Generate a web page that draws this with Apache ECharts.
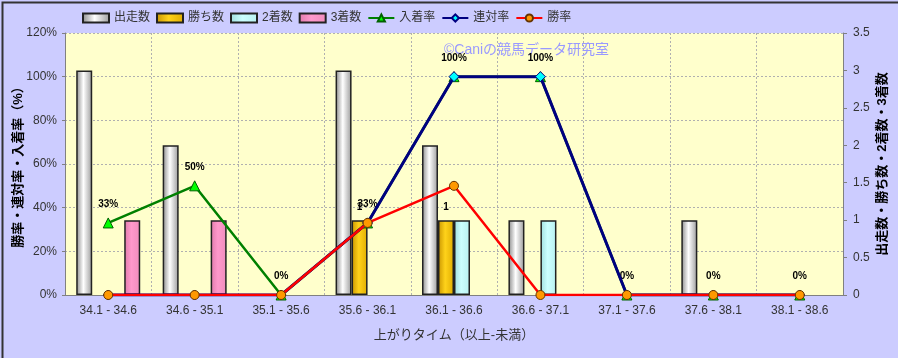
<!DOCTYPE html>
<html><head><meta charset="utf-8">
<script src="https://cdn.jsdelivr.net/npm/echarts@6/dist/echarts.min.js"></script>
<style>html,body{margin:0;padding:0;background:#ccccff;}#c{width:898px;height:358px;box-sizing:border-box;}</style>
</head><body><div id="c"></div>
<script>
const categories = ['34.1 - 34.6','34.6 - 35.1','35.1 - 35.6','35.6 - 36.1','36.1 - 36.6','36.6 - 37.1','37.1 - 37.6','37.6 - 38.1','38.1 - 38.6'];
const runs = [3, 2, 0, 3, 2, 1, 0, 1, 0];
const wins = [0, 0, 0, 1, 1, 0, 0, 0, 0];
const seconds = [0, 0, 0, 0, 1, 1, 0, 0, 0];
const thirds = [1, 1, 0, 0, 0, 0, 0, 0, 0];
const placeRate = [33, 50, 0, 33, 100, 100, 0, 0, 0];
const quinellaRate = [0, 0, 0, 33, 100, 100, 0, 0, 0];
const winRate = [0, 0, 0, 33, 50, 0, 0, 0, 0];
const leftTicks = {min: 0, max: 120, interval: 20};
const rightTicks = {min: 0, max: 3.5, interval: 0.5};

const FONT = '"Liberation Sans", "Noto Sans CJK JP", sans-serif';
const grad = (c1, c2, c3) => ({type:'linear', x:0, y:0, x2:1, y2:0,
  colorStops:[{offset:0,color:c1},{offset:0.45,color:c2},{offset:1,color:c3}]});
const hideZero = arr => arr.map(v => (v === 0 ? '-' : v));
const barBase = {type:'bar', yAxisIndex:1, barWidth:16, barGap:'0%', z:2};
const chart = echarts.init(document.getElementById('c'));
chart.setOption({
  animation:false,
  backgroundColor:'#ccccff',
  textStyle:{fontFamily:FONT},
  legend:{
    left:77, top:7, itemWidth:26, itemHeight:9, itemGap:6,
    textStyle:{fontSize:12, color:'#333', fontFamily:FONT},
    data:[
      {name:'出走数', icon:'rect'},{name:'勝ち数', icon:'rect'},{name:'2着数', icon:'rect'},{name:'3着数', icon:'rect'},
      {name:'入着率'},{name:'連対率'},{name:'勝率'}]
  },
  grid:{left:65, right:55, top:33, bottom:63, show:true, backgroundColor:'#ffffcc', borderWidth:0,
        containLabel:false, outerBoundsMode:'none'},
  graphic:[
    {type:'rect', left:0, top:0, shape:{width:897, height:357}, style:{fill:'none', stroke:'#333', lineWidth:2}, z:100, silent:true},
    {type:'text', left:444, top:43, z:1, style:{text:'©Caniの競馬データ研究室', fill:'#9999ff', font:'14px "Liberation Sans", "Noto Sans CJK JP", sans-serif'}}
  ],
  xAxis:{
    type:'category', data:categories,
    name:'上がりタイム（以上-未満）', nameLocation:'middle', nameGap:34, nameMoveOverlap:false,
    nameTextStyle:{fontSize:13, color:'#333'},
    axisLine:{lineStyle:{color:'#808080'}},
    axisTick:{show:false},
    axisLabel:{fontSize:12, color:'#333', margin:10},
    splitLine:{show:true, interval:0, lineStyle:{color:'#b0b0b0', type:[2,2], width:1}}
  },
  yAxis:[
    {type:'value', min:leftTicks.min, max:leftTicks.max, interval:leftTicks.interval,
     name:'勝率・連対率・入着率（%）', nameLocation:'middle', nameGap:40, nameRotate:90, nameMoveOverlap:false,
     nameTextStyle:{fontSize:13, color:'#000', fontWeight:'bold'},
     axisLine:{show:true, lineStyle:{color:'#808080'}},
     axisTick:{show:true, length:3, lineStyle:{color:'#808080'}},
     axisLabel:{formatter:'{value}%', fontSize:12, color:'#333', margin:8},
     splitLine:{show:true, lineStyle:{color:'#b0b0b0', type:[2,2], width:1}}},
    {type:'value', min:rightTicks.min, max:rightTicks.max, interval:rightTicks.interval,
     name:'出走数・勝ち数・2着数・3着数', nameLocation:'middle', nameGap:33, nameRotate:90, nameMoveOverlap:false,
     nameTextStyle:{fontSize:13, color:'#000', fontWeight:'bold'},
     axisLine:{show:true, lineStyle:{color:'#808080'}},
     axisTick:{show:true, length:4, lineStyle:{color:'#808080'}},
     axisLabel:{fontSize:12, color:'#333', margin:10},
     splitLine:{show:false}}
  ],
  series:[
    Object.assign({}, barBase, {name:'出走数', data:hideZero(runs),
      itemStyle:{color:grad('#8a8a8a','#ffffff','#9a9a9a'), borderColor:'#222', borderWidth:1.5}}),
    Object.assign({}, barBase, {name:'勝ち数', data:hideZero(wins),
      itemStyle:{color:grad('#c89400','#ffd21a','#e0ad00'), borderColor:'#222', borderWidth:1.5},
      label:{show:true, position:'top', distance:8, color:'#000', fontSize:10, fontWeight:'bold',
        formatter:p => String(p.value)}}),
    Object.assign({}, barBase, {name:'2着数', data:hideZero(seconds),
      itemStyle:{color:grad('#9fdede','#ccffff','#b8f0f0'), borderColor:'#222', borderWidth:1.5}}),
    Object.assign({}, barBase, {name:'3着数', data:hideZero(thirds),
      itemStyle:{color:grad('#e07aab','#ff99cc','#f08cbc'), borderColor:'#222', borderWidth:1.5}}),
    {name:'入着率', type:'line', yAxisIndex:0, data:placeRate, z:3,
     symbol:'triangle', symbolSize:10,
     lineStyle:{color:'#008000', width:2.5},
     itemStyle:{color:'#00ff00', borderColor:'#006000', borderWidth:1},
     label:{show:true, position:'top', distance:8, color:'#000', fontSize:10, fontWeight:'bold', formatter:'{c}%'}},
    {name:'連対率', type:'line', yAxisIndex:0, data:quinellaRate, z:4,
     symbol:'diamond', symbolSize:10,
     lineStyle:{color:'#000080', width:3},
     itemStyle:{color:'#00ffff', borderColor:'#000080', borderWidth:1}},
    {name:'勝率', type:'line', yAxisIndex:0, data:winRate, z:5,
     symbol:'circle', symbolSize:9,
     lineStyle:{color:'#ff0000', width:2.5},
     itemStyle:{color:'#ff9900', borderColor:'#663300', borderWidth:1}}
  ]
});
</script></body></html>
